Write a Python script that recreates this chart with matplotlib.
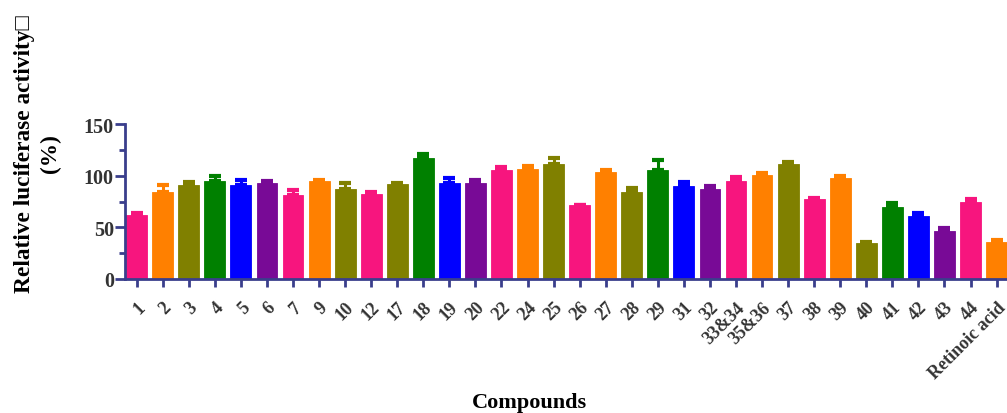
import numpy as np
import matplotlib as mpl
mpl.use('Agg')
import matplotlib.pyplot as plt
from matplotlib.ticker import MultipleLocator

# Data
compounds = ['1', '2', '3', '4', '5', '6', '7', '9', '10', '12', '17', '18',
             '19', '20', '22', '24', '25', '26', '27', '28', '29', '31', '32',
             '33&34', '35&36', '37', '38', '39', '40', '41', '42', '43', '44',
             'Retinoic acid']
activity = [62, 84, 91.3, 95.5, 91, 93, 81.3, 95.2, 87.4, 82.3, 92, 117.7,
            93.2, 93, 105.5, 106.5, 112, 71.6, 103.5, 84.8, 106, 90.6, 87.1,
            95.2, 101, 111.3, 77.4, 97.7, 34.5, 69.7, 61, 46.8, 74.2, 36.1]
sem = [2, 7.3, 2.5, 4, 4.8, 2, 5.2, 0.8, 6, 2, 1, 3.3,
       5.2, 2.8, 3, 3, 5, 0.5, 2, 3, 9.4, 3.9, 3.5,
       3.5, 1.6, 2.2, 1, 2.6, 1, 3.8, 2.9, 2.9, 3.2, 1.6]
bar_colors = ['#F7157E', '#FF8000', '#808000', '#008000', '#0000FF', '#780A96',
              '#F7157E', '#FF8000', '#808000', '#F7157E', '#808000', '#008000',
              '#0000FF', '#780A96', '#F7157E', '#FF8000', '#808000', '#F7157E',
              '#FF8000', '#808000', '#008000', '#0000FF', '#780A96', '#F7157E',
              '#FF8000', '#808000', '#F7157E', '#FF8000', '#808000', '#008000',
              '#0000FF', '#780A96', '#F7157E', '#FF8000']

axis_color = '#3A3E8C'
serif = ['Liberation Serif', 'DejaVu Serif']

plt.rcParams['font.family'] = serif
plt.rcParams['font.weight'] = 'bold'

fig = plt.figure(figsize=(10.07, 4.14), dpi=100)
ax = fig.add_axes([0.1241, 0.3237, 0.8759, 0.3736])

x = np.arange(len(compounds))
ax.bar(x, activity, width=0.8, color=bar_colors, edgecolor=bar_colors,
       linewidth=0.6, zorder=2)

# upper error bars only, coloured like the bars
for xi, v, e, c in zip(x, activity, sem, bar_colors):
    ax.errorbar(xi, v, yerr=[[0], [e]], fmt='none', ecolor=c,
                elinewidth=2.2, capsize=4.5, capthick=3, zorder=3)

ax.set_xlim(-0.45, 33.4)
ax.set_ylim(0, 150)
ax.yaxis.set_major_locator(MultipleLocator(50))
ax.yaxis.set_minor_locator(MultipleLocator(25))

for side in ['top', 'right']:
    ax.spines[side].set_visible(False)
for side in ['left', 'bottom']:
    ax.spines[side].set_color(axis_color)
    ax.spines[side].set_linewidth(2)

ax.tick_params(axis='y', which='major', length=7, width=2, color=axis_color,
               pad=1, labelsize=14.5, labelcolor='#333333')
ax.tick_params(axis='y', which='minor', length=4.5, width=2, color=axis_color)
ax.tick_params(axis='x', length=6, width=2, color=axis_color, pad=8,
               labelsize=13, labelcolor='#333333')

ax.set_xticks(x)
ax.set_xticklabels(compounds, rotation=45, ha='right', va='top',
                   rotation_mode='anchor', fontweight='bold')
for lbl in ax.get_yticklabels():
    lbl.set_fontweight('bold')

fig.text(0.037, 0.628, 'Relative luciferase activity\u25a1\n(%)',
         rotation=90, ha='center', va='center', fontsize=16.8,
         fontweight='bold', linespacing=1.3, multialignment='center',
         family=['Liberation Serif', 'DejaVu Sans'])
fig.text(0.526, 0.027, 'Compounds', ha='center', va='center',
         fontsize=16, fontweight='bold')

plt.savefig('out.png', dpi=100)
plt.close(fig)
